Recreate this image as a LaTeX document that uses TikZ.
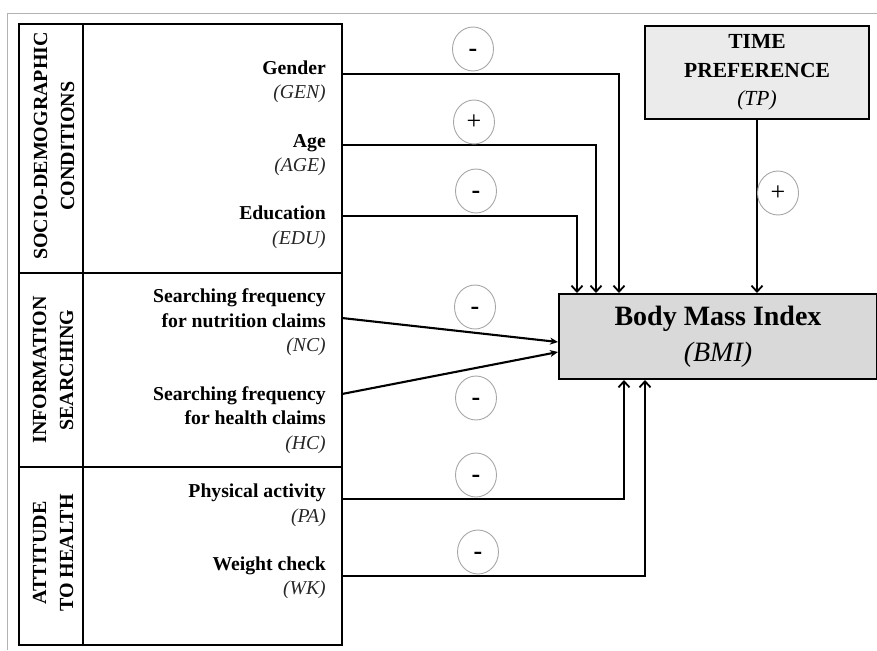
\documentclass[tikz,border=0pt]{standalone}
\usepackage{fontspec}
\setmainfont{Liberation Serif}
\usetikzlibrary{arrows.meta,shapes.geometric,calc}
\newcommand{\negsign}{\raisebox{-0.29em}{\textbf{-}}}
\newcommand{\possign}{\raisebox{-0.27em}{+}}
\begin{document}
\begin{tikzpicture}[x=1pt,y=-1pt,
  lbl/.style={anchor=east,align=right,inner sep=0pt,font=\fontsize{19.7}{24.5}\selectfont},
  grp/.style={rotate=90,align=center,inner sep=0pt,font=\fontsize{20}{27}\selectfont\bfseries},
  sign/.style={ellipse,draw=gray!70,line width=0.9pt,minimum width=41pt,minimum height=44pt,inner sep=0pt,
    text height=0pt,text depth=0pt,font=\fontsize{26}{26}\selectfont},
  conn/.style={line width=2.1pt,-{Straight Barb[length=6pt,width=11pt,line width=1.8pt]}},
  diag/.style={line width=2.1pt,-{Stealth[length=8pt,width=7pt]}},
  boxline/.style={line width=2.4pt},
  gframe/.style={line width=1pt,draw=gray!60}
]
\useasboundingbox (0,0) rectangle (877,650);
% outer thin frame
\draw[gframe] (7,650) -- (7,14) -- (877,14);
% left box
\draw[boxline] (19,24) rectangle (342,645);
\draw[boxline] (83,24) -- (83,645);
\draw[boxline] (19,273) -- (342,273);
\draw[boxline] (19,467) -- (342,467);
% group labels
\node[grp] (g1) at (54,146) {SOCIO-DEMOGRAPHIC\\CONDITIONS};
\node[grp] (g2) at (53,370) {INFORMATION\\SEARCHING};
\node[grp] (g3) at (53,553) {ATTITUDE\\TO HEALTH};
% variable labels
\node[lbl] (gen) at (326,82) {\textbf{Gender}\\\textcolor{black!85}{\textit{(GEN)}}};
\node[lbl] (age) at (326,155) {\textbf{Age}\\\textcolor{black!85}{\textit{(AGE)}}};
\node[lbl] (edu) at (326,227.5) {\textbf{Education}\\\textcolor{black!85}{\textit{(EDU)}}};
\node[lbl] (nc) at (326,322.5) {\textbf{Searching frequency}\\\textbf{for nutrition claims}\\\textcolor{black!85}{\textit{(NC)}}};
\node[lbl] (hc) at (326,420) {\textbf{Searching frequency}\\\textbf{for health claims}\\\textcolor{black!85}{\textit{(HC)}}};
\node[lbl] (pa) at (326,505.5) {\textbf{Physical activity}\\\textcolor{black!85}{\textit{(PA)}}};
\node[lbl] (wk) at (326,578) {\textbf{Weight check}\\\textcolor{black!85}{\textit{(WK)}}};
% connector start points on the box edge
\coordinate (gen-o) at (342,74);
\coordinate (age-o) at (342,145);
\coordinate (edu-o) at (342,216);
\coordinate (nc-o) at (342,318);
\coordinate (hc-o) at (342,394);
\coordinate (pa-o) at (342,499);
\coordinate (wk-o) at (342,576);
% target boxes
\node[draw,line width=2pt,fill=black!15,minimum width=318pt,minimum height=85pt,anchor=north west,inner sep=0pt,align=center,
  font=\fontsize{28}{36}\selectfont] (bmi) at (558,293) {\textbf{Body Mass Index}\\\textit{(BMI)}};
\node[draw,line width=2pt,fill=black!8,minimum width=224pt,minimum height=93pt,anchor=north west,inner sep=0pt,align=center,
  font=\fontsize{21.5}{28.5}\selectfont\bfseries] (tp) at (644,25) {TIME\\PREFERENCE\\\textmd{\textit{(TP)}}};
% connectors
\draw[conn] (gen-o) -| ($(bmi.north west)+(61,0)$);
\draw[conn] (age-o) -| ($(bmi.north west)+(38,0)$);
\draw[conn] (edu-o) -| ($(bmi.north west)+(19,0)$);
\draw[diag] (nc-o) -- ($(bmi.north west)+(0,49)$);
\draw[diag] (hc-o) -- ($(bmi.north west)+(0,59)$);
\draw[conn] (pa-o) -| ($(bmi.south west)+(66,0)$);
\draw[conn] (wk-o) -| ($(bmi.south west)+(87,0)$);
\draw[conn] (tp.south) -- (tp.south |- bmi.north);
% sign markers
\node[sign] (s1) at (473,49) {\negsign};
\node[sign] (s2) at (474,122) {\possign};
\node[sign] (s3) at (476,191) {\negsign};
\node[sign] (s4) at (475,307) {\negsign};
\node[sign] (s5) at (476,398) {\negsign};
\node[sign] (s6) at (476,475) {\negsign};
\node[sign] (s7) at (478,552) {\negsign};
\node[sign] (s8) at (778,193) {\possign};
\end{tikzpicture}
\end{document}
